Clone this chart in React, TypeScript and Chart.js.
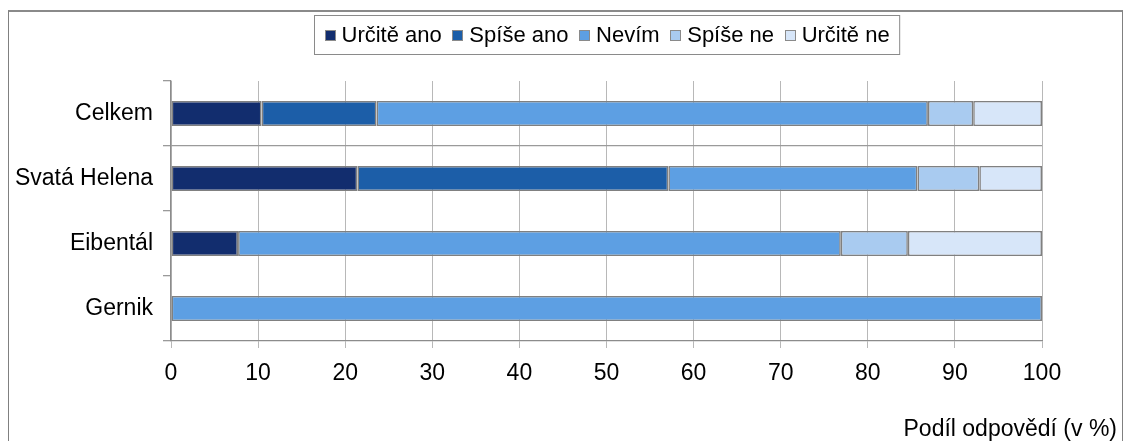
import React, { useEffect, useRef } from 'react';
import { Chart, registerables } from 'chart.js';

Chart.register(...registerables);

const categories = ['Celkem', 'Svatá Helena', 'Eibentál', 'Gernik'];
const seriesNames = ['Určitě ano', 'Spíše ano', 'Nevím', 'Spíše ne', 'Určitě ne'];
const urciteAno = [10.4, 21.4, 7.7, null];
const spiseAno = [13.2, 35.7, null, null];
const nevim = [63.3, 28.6, 69.2, 100];
const spiseNe = [5.2, 7.1, 7.7, null];
const urciteNe = [7.9, 7.2, 15.4, null];
const xTicks = [0, 10, 20, 30, 40, 50, 60, 70, 80, 90, 100];
const axisTitle = 'Podíl odpovědí (v %)';
const seriesColors = ['#122d6e', '#1c5ea8', '#5d9fe3', '#a9cbf0', '#d7e6f9'];

const FONT = '"Liberation Sans", Arial, sans-serif';

const boxLegend = {
  id: 'boxLegend',
  afterDraw(chart: any) {
    const ctx = chart.ctx as CanvasRenderingContext2D;
    ctx.save();
    ctx.font = `22px ${FONT}`;
    const sw = 11;
    const gapT = 6;
    const gapI = 10.6;
    const pad = 10;
    const items = chart.data.datasets.map((d: any) => ({
      label: d.label as string,
      color: d.backgroundColor as string,
      w: ctx.measureText(d.label).width,
    }));
    let total = pad * 2;
    items.forEach((it: any, i: number) => {
      total += sw + gapT + it.w + (i < items.length - 1 ? gapI : 0);
    });
    const cx = (chart.chartArea.left + chart.chartArea.right) / 2;
    const left = Math.round(cx - total / 2) + 0.5;
    const top = 3.5;
    const h = 39;
    ctx.strokeStyle = '#8a8a8a';
    ctx.lineWidth = 1;
    ctx.fillStyle = '#ffffff';
    ctx.fillRect(left, top, total, h);
    ctx.strokeRect(left, top, total, h);
    let x = left + pad;
    ctx.textBaseline = 'alphabetic';
    ctx.textAlign = 'left';
    items.forEach((it: any) => {
      ctx.fillStyle = it.color;
      ctx.fillRect(Math.round(x), 18, sw, sw);
      ctx.strokeStyle = '#8a8a8a';
      ctx.strokeRect(Math.round(x) + 0.5, 18.5, sw - 1, sw - 1);
      x += sw + gapT;
      ctx.fillStyle = '#000000';
      ctx.fillText(it.label, x, 29.5);
      x += it.w + gapI;
    });
    ctx.font = `23px ${FONT}`;
    ctx.textAlign = 'right';
    ctx.fillStyle = '#000000';
    ctx.fillText(axisTitle, 1108, 424);
    ctx.restore();
  },
};

export default function App() {
  const ref = useRef<HTMLCanvasElement | null>(null);

  useEffect(() => {
    if (!ref.current) return;
    const series = [urciteAno, spiseAno, nevim, spiseNe, urciteNe];
    const chart = new Chart(ref.current, {
      type: 'bar',
      data: {
        labels: categories,
        datasets: series.map((vals, i) => ({
          label: seriesNames[i],
          data: vals,
          backgroundColor: seriesColors[i],
          borderColor: '#808080',
          borderWidth: 1.6,
          borderSkipped: false,
          categoryPercentage: 1,
          barPercentage: 0.385,
        })),
      },
      options: {
        indexAxis: 'y',
        animation: false,
        responsive: false,
        maintainAspectRatio: false,
        layout: { padding: { left: 0, right: 80, top: 69, bottom: 0 } },
        plugins: {
          legend: { display: false },
          tooltip: { enabled: false },
          title: { display: false },
        },
        scales: {
          x: {
            stacked: true,
            min: 0,
            max: 100,
            afterBuildTicks: (s: any) => {
              s.ticks = xTicks.map((v) => ({ value: v }));
            },
            afterFit: (s: any) => {
              s.height = 100;
            },
            ticks: {
              color: '#000000',
              font: { family: FONT, size: 23 },
              padding: 12,
              maxRotation: 0,
              autoSkip: false,
            },
            grid: {
              color: '#b8b8b8',
              tickColor: '#b8b8b8',
              tickLength: 7,
              lineWidth: 1,
            },
            border: { display: true, color: '#8c8c8c', width: 1.3 },
          },
          y: {
            stacked: true,
            afterFit: (s: any) => {
              s.width = 162;
            },
            ticks: {
              color: '#000000',
              font: { family: FONT, size: 23 },
              padding: 10,
            },
            grid: {
              offset: true,
              color: (c: any) => (c.index === 1 ? '#9a9a9a' : 'rgba(0,0,0,0)'),
              tickColor: '#9a9a9a',
              tickLength: 8,
              lineWidth: 1.3,
            },
            border: { display: true, color: '#8c8c8c', width: 1.3 },
          },
        },
      },
      plugins: [boxLegend],
    });
    return () => chart.destroy();
  }, []);

  return (
    <div
      style={{
        position: 'fixed',
        left: 8,
        top: 10,
        width: 1115,
        height: 440,
        boxSizing: 'border-box',
        borderLeft: '1px solid #808080',
        borderRight: '1px solid #808080',
        borderTop: '2px solid #8a8a8a',
        background: '#ffffff',
      }}
    >
      <canvas ref={ref} width={1113} height={429} style={{ display: 'block', width: 1113, height: 429 }} />
    </div>
  );
}
